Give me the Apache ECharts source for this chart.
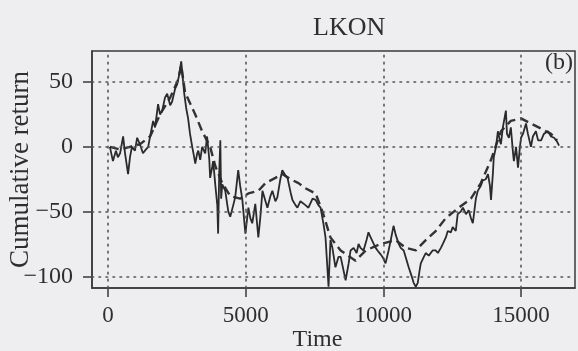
<!DOCTYPE html>
<html><head><meta charset="utf-8">
<script src="https://cdn.jsdelivr.net/npm/echarts@6/dist/echarts.min.js"></script>
<style>html,body{margin:0;padding:0;background:#eeeef0;}#c{width:578px;height:351px;}</style>
</head><body><div id="c"></div>
<script>
const xTicks = [0, 5000, 10000, 15000];
const yTicks = [-100, -50, 0, 50];
const solidTime = [70,180,290,360,440,550,620,730,800,870,980,1060,1160,1270,1380,1460,1530,1640,1710,1820,1890,1970,2070,2150,2260,2330,2440,2510,2580,2660,2730,2770,2840,2910,2980,3060,3130,3170,3240,3280,3350,3420,3530,3600,3680,3710,3790,3820,3900,3970,4000,4040,4080,4110,4150,4260,4370,4440,4550,4620,4730,4800,4880,4990,5100,5170,5240,5350,5460,5530,5610,5720,5790,5900,5970,6080,6150,6260,6330,6440,6520,6630,6700,6810,6880,6990,7060,7170,7280,7430,7540,7640,7720,7830,7900,8010,8080,8150,8260,8370,8450,8550,8630,8740,8810,8920,9030,9100,9170,9280,9390,9460,9540,9650,9720,9790,9900,9970,10080,10190,10270,10370,10450,10560,10630,10740,10850,10920,11030,11100,11180,11250,11320,11360,11470,11540,11650,11790,11900,11980,12090,12160,12270,12340,12450,12520,12630,12700,12810,12890,13000,13100,13180,13250,13360,13430,13540,13610,13720,13800,13870,13910,13980,14010,14090,14160,14230,14270,14340,14450,14490,14560,14630,14710,14740,14820,14890,14960,15000,15070,15180,15250,15360,15430,15540,15620,15730,15830,15980,16090,16200,16310,16380];
const solidReturn = [0,-11,-3,-8,-5,8,-5,-21,-8,0,-3,7,2,-5,-2,0,8,20,15,33,25,28,38,41,32,35,45,48,55,66,50,41,30,22,10,0,-8,-13,-5,-3,-10,0,-5,8,-10,-24,-15,-11,-30,-45,-67,-20,5,-40,-29,-34,-50,-54,-45,-39,-18,-30,-41,-67,-47,-55,-59,-44,-70,-55,-34,-42,-47,-38,-34,-42,-39,-25,-18,-22,-24,-35,-41,-45,-47,-42,-41,-45,-47,-40,-41,-45,-47,-60,-70,-108,-72,-78,-93,-85,-85,-95,-103,-90,-80,-78,-82,-75,-78,-80,-72,-66,-70,-75,-78,-80,-83,-85,-90,-80,-72,-61,-68,-75,-78,-80,-88,-93,-100,-105,-108,-105,-95,-90,-85,-82,-84,-80,-80,-82,-78,-75,-70,-65,-66,-62,-65,-52,-50,-47,-52,-49,-55,-59,-40,-34,-30,-26,-25,-21,-30,-41,-20,-8,0,12,5,2,15,28,10,7,15,-5,-11,0,-16,0,7,10,18,10,0,8,12,5,5,10,12,8,7,4,1];
const trendTime = [70,440,800,1160,1530,1890,2260,2550,2660,2800,3170,3420,3710,3900,4150,4440,4800,5100,5460,5720,6080,6330,6630,6920,7170,7540,7790,8080,8450,8990,9360,9900,10450,10810,11180,11540,11900,12270,12740,13180,13540,13910,14270,14630,15000,15360,15730,16090,16310];
const trendReturn = [0,-2,0,2,8,25,38,52,63,42,25,12,0,-15,-28,-38,-40,-36,-34,-28,-24,-21,-25,-28,-32,-36,-50,-70,-80,-88,-80,-75,-72,-78,-80,-72,-65,-55,-47,-40,-28,-10,12,20,22,18,14,10,5];

const solidData = solidTime.map((t, i) => [t, solidReturn[i]]);
const trendData = trendTime.map((t, i) => [t, trendReturn[i]]);

const font = 'Liberation Serif';
const ink = '#2e2e2e';
const dotted = {color: '#555', width: 1.6, type: [1.6, 5.4], cap: 'round'};

const chart = echarts.init(document.getElementById('c'), null, {renderer: 'canvas'});
chart.setOption({
  backgroundColor: '#eeeef0',
  animation: false,
  title: [
    {text: 'LKON', left: 308, top: 10, padding: 5, textStyle: {fontFamily: font, fontSize: 26, fontWeight: 'normal', color: ink}},
    {text: '(b)', right: 0, top: 46, padding: 5, textStyle: {fontFamily: font, fontSize: 24, fontWeight: 'normal', color: ink}}
  ],
  grid: {left: 92, top: 51, right: 3, bottom: 63, containLabel: false, outerBoundsMode: 'none',
    show: true, borderColor: '#3a3a3a', borderWidth: 1.5, backgroundColor: 'transparent'},
  xAxis: {
    type: 'value', min: -580, max: 16960,
    name: 'Time', nameLocation: 'middle', nameGap: 40, nameMoveOverlap: false,
    nameTextStyle: {fontFamily: font, fontSize: 24, color: ink, padding: [0, 32, 0, 0]},
    axisLine: {show: true, onZero: false, lineStyle: {color: '#3a3a3a', width: 1.5}},
    axisTick: {show: true, inside: false, length: 9, customValues: xTicks, lineStyle: {color: '#3a3a3a', width: 1.5}},
    axisLabel: {customValues: xTicks, margin: 16, fontFamily: font, fontSize: 23, color: ink,
      formatter: v => String(v)},
    splitLine: {show: false}
  },
  yAxis: {
    type: 'value', min: -109, max: 74,
    name: 'Cumulative return', nameLocation: 'middle', nameGap: 58, nameMoveOverlap: false,
    nameTextStyle: {fontFamily: font, fontSize: 27, color: ink},
    axisLine: {show: true, onZero: false, lineStyle: {color: '#3a3a3a', width: 1.5}},
    axisTick: {show: true, inside: false, length: 9, customValues: yTicks, lineStyle: {color: '#3a3a3a', width: 1.5}},
    axisLabel: {customValues: yTicks, margin: 19, fontFamily: font, fontSize: 24, color: ink,
      formatter: v => (v < 0 ? '\u2212' + Math.abs(v) : String(v))},
    splitLine: {show: false}
  },
  series: [
    {
      type: 'line', data: [], silent: true,
      markLine: {
        silent: true, symbol: 'none', label: {show: false}, lineStyle: dotted,
        data: xTicks.map(v => ({xAxis: v})).concat(yTicks.map(v => ({yAxis: v})))
      }
    },
    {
      type: 'line', data: trendData, showSymbol: false, smooth: false,
      lineStyle: {color: '#333', width: 2.4, type: [9, 5]}, z: 3
    },
    {
      type: 'line', data: solidData, showSymbol: false,
      lineStyle: {color: '#2a2a2a', width: 1.8}, z: 4
    }
  ]
});
</script>
</body></html>
